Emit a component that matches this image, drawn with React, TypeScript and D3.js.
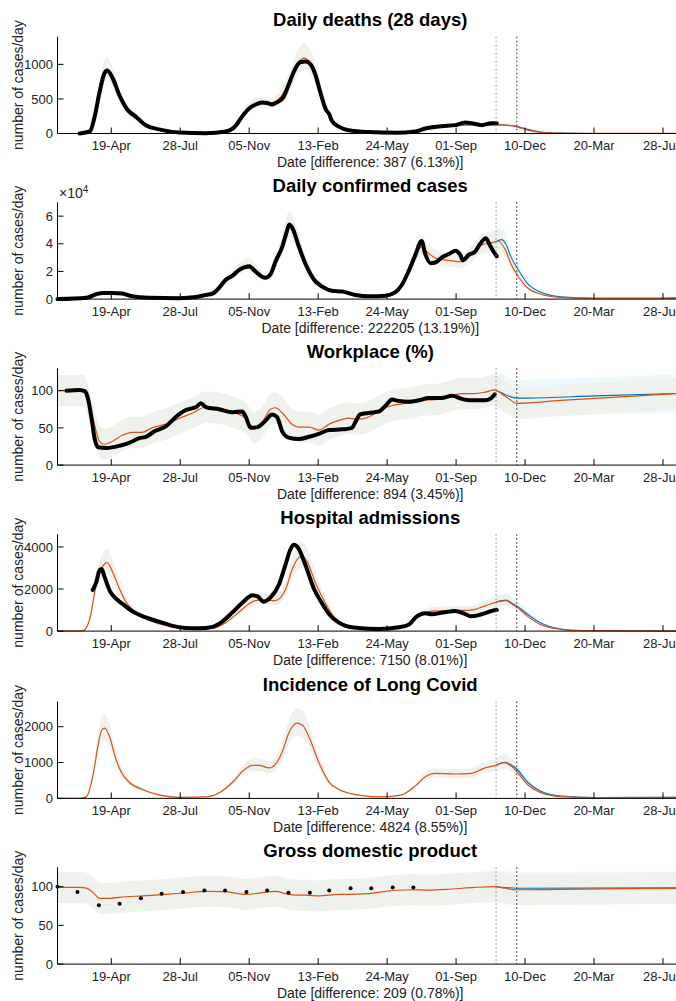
import React from 'react';
import * as d3 from 'd3';

type Pt = [string, number];

const X_START = '2020-02-01';
const X_END = '2022-07-27';
const X_TICKS = ['2020-04-19', '2020-07-28', '2020-11-05', '2021-02-13', '2021-05-24', '2021-09-01', '2021-12-10', '2022-03-20', '2022-06-28'];
const VLINE_1 = '2021-10-29';
const VLINE_2 = '2021-11-28';

// ---------- Daily deaths ----------
const deathsData: Pt[] = [
  ['2020-03-04', 0], ['2020-03-19', 30], ['2020-03-26', 250], ['2020-04-02', 600], ['2020-04-09', 870], ['2020-04-13', 910],
  ['2020-04-21', 800], ['2020-05-01', 550], ['2020-05-12', 350], ['2020-05-24', 250], ['2020-06-08', 120], ['2020-06-27', 60],
  ['2020-07-27', 15], ['2020-09-03', 5], ['2020-10-02', 30], ['2020-10-12', 70], ['2020-10-17', 120], ['2020-10-26', 250],
  ['2020-11-07', 380], ['2020-11-17', 430], ['2020-11-24', 450], ['2020-12-01', 440], ['2020-12-08', 420], ['2020-12-15', 450],
  ['2020-12-25', 530], ['2021-01-01', 700], ['2021-01-09', 900], ['2021-01-18', 1030], ['2021-01-26', 1040], ['2021-02-02', 1000],
  ['2021-02-09', 850], ['2021-02-16', 600], ['2021-02-24', 350], ['2021-03-01', 280], ['2021-03-05', 180], ['2021-03-15', 100],
  ['2021-03-29', 48], ['2021-04-27', 20], ['2021-06-05', 10], ['2021-07-04', 30], ['2021-07-18', 73], ['2021-08-11', 106],
  ['2021-08-31', 121], ['2021-09-14', 160], ['2021-09-23', 150], ['2021-10-08', 121], ['2021-10-22', 150], ['2021-10-30', 150],
];
const deathsModel: Pt[] = [
  ['2020-02-01', 0], ['2020-03-04', 0], ['2020-03-19', 40], ['2020-03-26', 280], ['2020-04-02', 620], ['2020-04-09', 880],
  ['2020-04-13', 920], ['2020-04-21', 790], ['2020-05-01', 520], ['2020-05-12', 320], ['2020-05-24', 220], ['2020-06-08', 120],
  ['2020-06-27', 50], ['2020-07-27', 12], ['2020-09-03', 5], ['2020-10-02', 35], ['2020-10-17', 130], ['2020-11-07', 390],
  ['2020-11-17', 440], ['2020-12-01', 430], ['2020-12-15', 470], ['2021-01-01', 720], ['2021-01-18', 1060], ['2021-01-24', 1090],
  ['2021-02-02', 1010], ['2021-02-16', 620], ['2021-03-01', 280], ['2021-03-15', 100], ['2021-04-08', 30], ['2021-05-22', 10],
  ['2021-07-04', 30], ['2021-07-18', 70], ['2021-08-11', 110], ['2021-09-14', 120], ['2021-10-08', 120], ['2021-10-30', 125],
  ['2021-11-11', 120], ['2021-11-28', 97], ['2021-12-14', 48], ['2022-01-02', 15], ['2022-01-31', 4], ['2022-03-21', 1], ['2022-07-27', 1],
];
const deathsAlt: Pt[] = [
  ['2021-10-29', 125], ['2021-11-11', 122], ['2021-11-28', 105], ['2021-12-14', 60], ['2022-01-02', 22], ['2022-01-31', 6],
  ['2022-03-21', 1], ['2022-07-27', 1],
];

// ---------- Daily confirmed cases ----------
const casesData: Pt[] = [
  ['2020-02-01', 0], ['2020-03-14', 1000], ['2020-03-28', 3500], ['2020-04-07', 4500], ['2020-04-21', 4500], ['2020-05-05', 4000],
  ['2020-05-19', 2000], ['2020-06-13', 1000], ['2020-07-27', 700], ['2020-08-20', 1500], ['2020-09-03', 3000], ['2020-09-13', 4000],
  ['2020-09-22', 8000], ['2020-10-02', 14000], ['2020-10-12', 17000], ['2020-10-21', 21000], ['2020-11-05', 23500], ['2020-11-14', 20000],
  ['2020-11-24', 16000], ['2020-11-29', 15500], ['2020-12-06', 18000], ['2020-12-13', 27000], ['2020-12-23', 38000], ['2020-12-29', 48000],
  ['2021-01-02', 54000], ['2021-01-06', 52000], ['2021-01-16', 38000], ['2021-01-26', 25000], ['2021-02-07', 14000], ['2021-02-19', 9000],
  ['2021-03-05', 6000], ['2021-03-20', 5500], ['2021-04-08', 3000], ['2021-04-27', 2000], ['2021-05-22', 2500], ['2021-06-05', 5000],
  ['2021-06-14', 10000], ['2021-06-24', 20000], ['2021-07-04', 32000], ['2021-07-13', 42000], ['2021-07-18', 33000], ['2021-07-26', 26000],
  ['2021-08-02', 26500], ['2021-08-11', 30000], ['2021-08-23', 33000], ['2021-08-31', 35000], ['2021-09-07', 32000], ['2021-09-11', 28000],
  ['2021-09-19', 32000], ['2021-09-28', 34000], ['2021-10-06', 40000], ['2021-10-14', 44000], ['2021-10-20', 39000], ['2021-10-27', 33000],
  ['2021-10-30', 31000],
];
const casesModel: Pt[] = [
  ['2020-02-01', 0], ['2020-03-14', 500], ['2020-03-28', 3000], ['2020-04-12', 4500], ['2020-05-05', 4000], ['2020-05-19', 2000],
  ['2020-06-13', 1000], ['2020-07-27', 700], ['2020-08-20', 1500], ['2020-09-03', 3000], ['2020-09-22', 8000], ['2020-10-12', 18000],
  ['2020-10-26', 23000], ['2020-11-05', 25000], ['2020-11-14', 21000], ['2020-11-26', 16000], ['2020-12-06', 19000], ['2020-12-23', 39000],
  ['2021-01-02', 53000], ['2021-01-06', 51000], ['2021-01-16', 39000], ['2021-01-26', 26000], ['2021-02-07', 15000], ['2021-02-19', 9000],
  ['2021-03-05', 6000], ['2021-03-20', 5000], ['2021-04-08', 3000], ['2021-04-27', 2000], ['2021-05-22', 2500], ['2021-06-05', 5000],
  ['2021-06-14', 10000], ['2021-06-24', 20000], ['2021-07-04', 31000], ['2021-07-13', 38000], ['2021-07-23', 33000], ['2021-08-06', 29000],
  ['2021-08-21', 28000], ['2021-09-09', 27000], ['2021-09-23', 32000], ['2021-10-08', 39000], ['2021-10-25', 41000], ['2021-11-01', 42000],
  ['2021-11-11', 36000], ['2021-11-20', 25000], ['2021-11-28', 18000], ['2021-12-14', 8000], ['2022-01-02', 3500], ['2022-01-31', 1200],
  ['2022-03-21', 500], ['2022-06-01', 500], ['2022-07-27', 1000],
];
const casesAlt: Pt[] = [
  ['2021-10-29', 41500], ['2021-11-06', 43000], ['2021-11-13', 39000], ['2021-11-20', 30000], ['2021-11-28', 23000], ['2021-12-14', 11000],
  ['2022-01-02', 5000], ['2022-01-31', 1700], ['2022-03-21', 600], ['2022-06-01', 500], ['2022-07-27', 800],
];

// ---------- Workplace ----------
const workData: Pt[] = [
  ['2020-02-14', 100], ['2020-03-04', 101], ['2020-03-12', 99], ['2020-03-16', 90], ['2020-03-21', 65], ['2020-03-26', 35],
  ['2020-03-31', 24], ['2020-04-12', 23], ['2020-05-01', 26], ['2020-05-15', 30], ['2020-05-29', 36], ['2020-06-08', 38],
  ['2020-06-22', 46], ['2020-07-07', 52], ['2020-07-22', 65], ['2020-08-05', 74], ['2020-08-20', 78], ['2020-08-27', 83],
  ['2020-09-03', 78], ['2020-09-22', 75], ['2020-10-12', 71], ['2020-10-26', 72], ['2020-10-31', 65], ['2020-11-07', 50],
  ['2020-11-17', 51], ['2020-11-29', 60], ['2020-12-08', 68], ['2020-12-15', 65], ['2020-12-23', 45], ['2021-01-01', 37],
  ['2021-01-16', 35], ['2021-01-31', 38], ['2021-02-14', 42], ['2021-03-01', 47], ['2021-03-20', 48], ['2021-04-03', 50],
  ['2021-04-08', 58], ['2021-04-15', 68], ['2021-04-27', 70], ['2021-05-12', 72], ['2021-05-22', 80], ['2021-05-31', 88],
  ['2021-06-10', 86], ['2021-06-24', 85], ['2021-07-09', 87], ['2021-07-23', 90], ['2021-08-11', 90], ['2021-08-26', 93],
  ['2021-09-09', 89], ['2021-09-23', 87], ['2021-10-13', 87], ['2021-10-22', 90], ['2021-10-27', 95],
];
const workModel: Pt[] = [
  ['2020-02-01', 100], ['2020-03-09', 100], ['2020-03-24', 60], ['2020-04-02', 32], ['2020-04-09', 28], ['2020-04-21', 32],
  ['2020-05-05', 40], ['2020-05-19', 44], ['2020-06-03', 44], ['2020-06-17', 50], ['2020-07-07', 55], ['2020-07-27', 63],
  ['2020-08-15', 70], ['2020-09-03', 78], ['2020-09-22', 77], ['2020-10-12', 71], ['2020-10-31', 63], ['2020-11-12', 50],
  ['2020-11-24', 58], ['2020-12-06', 75], ['2020-12-13', 77], ['2020-12-23', 70], ['2021-01-06', 55], ['2021-01-16', 51],
  ['2021-01-31', 51], ['2021-02-14', 47], ['2021-03-01', 55], ['2021-03-15', 60], ['2021-03-29', 63], ['2021-04-08', 62],
  ['2021-04-17', 62], ['2021-05-02', 67], ['2021-05-17', 75], ['2021-05-31', 80], ['2021-06-14', 82], ['2021-06-29', 84],
  ['2021-07-13', 87], ['2021-08-02', 88], ['2021-08-21', 92], ['2021-09-09', 96], ['2021-09-28', 96], ['2021-10-13', 98],
  ['2021-10-27', 101], ['2021-11-06', 96], ['2021-11-18', 88], ['2021-11-28', 83], ['2022-01-31', 87], ['2022-07-27', 96.5],
];
const workAlt: Pt[] = [
  ['2021-10-27', 101], ['2021-11-06', 97], ['2021-11-18', 92], ['2021-11-28', 90], ['2021-12-14', 90], ['2022-03-21', 93], ['2022-07-27', 96.5],
];

// ---------- Hospital admissions ----------
const hospData: Pt[] = [
  ['2020-03-23', 1950], ['2020-03-28', 2300], ['2020-04-02', 2900], ['2020-04-05', 2950], ['2020-04-09', 2600], ['2020-04-17', 1900],
  ['2020-04-24', 1600], ['2020-05-05', 1300], ['2020-05-19', 950], ['2020-06-08', 650], ['2020-06-27', 450], ['2020-07-17', 250],
  ['2020-08-05', 150], ['2020-08-25', 130], ['2020-09-13', 200], ['2020-09-27', 450], ['2020-10-12', 900], ['2020-10-26', 1350],
  ['2020-11-10', 1700], ['2020-11-17', 1650], ['2020-11-26', 1400], ['2020-12-06', 1600], ['2020-12-18', 2200], ['2020-12-28', 3200],
  ['2021-01-04', 3900], ['2021-01-09', 4100], ['2021-01-16', 3900], ['2021-01-26', 3100], ['2021-02-07', 2000], ['2021-02-19', 1300],
  ['2021-03-01', 800], ['2021-03-15', 400], ['2021-03-25', 250], ['2021-04-12', 150], ['2021-05-12', 100], ['2021-06-10', 180],
  ['2021-06-24', 300], ['2021-07-06', 700], ['2021-07-18', 850], ['2021-07-28', 800], ['2021-08-11', 870], ['2021-08-31', 960],
  ['2021-09-11', 850], ['2021-09-23', 700], ['2021-10-08', 800], ['2021-10-25', 980], ['2021-10-30', 1000],
];
const hospModel: Pt[] = [
  ['2020-02-01', 0], ['2020-03-09', 20], ['2020-03-19', 600], ['2020-03-28', 2200], ['2020-04-07', 3100], ['2020-04-13', 3250],
  ['2020-04-21', 2800], ['2020-05-01', 2000], ['2020-05-10', 1400], ['2020-05-29', 800], ['2020-06-27', 350], ['2020-08-05', 150],
  ['2020-09-13', 150], ['2020-10-02', 400], ['2020-10-21', 900], ['2020-11-10', 1400], ['2020-11-24', 1500], ['2020-12-13', 1450],
  ['2020-12-28', 2000], ['2021-01-06', 2900], ['2021-01-16', 3500], ['2021-01-21', 3550], ['2021-01-28', 3300], ['2021-02-09', 2300],
  ['2021-02-24', 1300], ['2021-03-08', 650], ['2021-03-20', 300], ['2021-04-17', 130], ['2021-06-05', 150], ['2021-06-24', 300],
  ['2021-07-11', 750], ['2021-07-28', 950], ['2021-08-31', 980], ['2021-09-23', 1000], ['2021-10-13', 1200], ['2021-11-01', 1400],
  ['2021-11-13', 1450], ['2021-11-20', 1300], ['2021-11-28', 1150], ['2021-12-14', 700], ['2022-01-02', 300], ['2022-01-31', 80],
  ['2022-03-01', 20], ['2022-07-27', 5],
];
const hospAlt: Pt[] = [
  ['2021-10-29', 1380], ['2021-11-13', 1470], ['2021-11-20', 1350], ['2021-11-28', 1200], ['2021-12-14', 800], ['2022-01-02', 380],
  ['2022-01-31', 100], ['2022-03-01', 25], ['2022-07-27', 5],
];

// ---------- Long Covid ----------
const longModel: Pt[] = [
  ['2020-02-01', 0], ['2020-03-04', 0], ['2020-03-14', 50], ['2020-03-24', 700], ['2020-03-31', 1500], ['2020-04-05', 1900],
  ['2020-04-09', 1960], ['2020-04-17', 1700], ['2020-04-24', 1200], ['2020-05-03', 750], ['2020-05-15', 450], ['2020-06-03', 250],
  ['2020-06-27', 100], ['2020-07-27', 30], ['2020-09-03', 40], ['2020-09-22', 150], ['2020-10-12', 450], ['2020-10-26', 750],
  ['2020-11-10', 920], ['2020-11-19', 920], ['2020-12-04', 850], ['2020-12-13', 950], ['2020-12-23', 1300], ['2021-01-01', 1800],
  ['2021-01-13', 2100], ['2021-01-21', 2050], ['2021-01-31', 1700], ['2021-02-14', 1000], ['2021-03-01', 450], ['2021-03-15', 250],
  ['2021-04-17', 80], ['2021-05-17', 40], ['2021-06-14', 100], ['2021-07-04', 350], ['2021-07-18', 600], ['2021-08-02', 700],
  ['2021-08-31', 680], ['2021-09-23', 700], ['2021-10-13', 850], ['2021-10-30', 930], ['2021-11-11', 1000], ['2021-11-20', 900],
  ['2021-11-28', 750], ['2021-12-14', 380], ['2022-01-02', 160], ['2022-01-31', 50], ['2022-03-21', 20], ['2022-07-27', 30],
];
const longAlt: Pt[] = [
  ['2021-10-29', 930], ['2021-11-11', 1010], ['2021-11-20', 930], ['2021-11-28', 820], ['2021-12-14', 450], ['2022-01-02', 200],
  ['2022-01-31', 65], ['2022-03-21', 25], ['2022-07-27', 30],
];

// ---------- GDP ----------
const gdpData: Pt[] = [
  ['2020-02-01', 100], ['2020-03-01', 93], ['2020-04-01', 76], ['2020-05-01', 78], ['2020-06-01', 85], ['2020-07-01', 91],
  ['2020-08-01', 93], ['2020-09-01', 95], ['2020-10-01', 95], ['2020-11-01', 93], ['2020-12-01', 95], ['2021-01-01', 92],
  ['2021-02-01', 92], ['2021-03-01', 95], ['2021-04-01', 98], ['2021-05-01', 98], ['2021-06-01', 99], ['2021-07-01', 99],
];
const gdpModel: Pt[] = [
  ['2020-02-01', 99], ['2020-03-04', 99], ['2020-03-14', 98], ['2020-03-24', 92], ['2020-04-02', 85], ['2020-04-17', 85],
  ['2020-05-10', 87], ['2020-06-03', 88], ['2020-07-07', 90], ['2020-08-05', 92], ['2020-09-03', 94], ['2020-10-02', 93.5],
  ['2020-10-31', 90], ['2020-11-14', 91], ['2020-11-29', 93], ['2020-12-13', 94], ['2020-12-28', 91], ['2021-01-11', 89],
  ['2021-01-26', 89], ['2021-02-14', 88], ['2021-03-15', 90], ['2021-03-29', 90], ['2021-04-27', 91], ['2021-05-22', 94],
  ['2021-06-29', 96], ['2021-07-23', 95.5], ['2021-08-26', 97], ['2021-09-28', 99], ['2021-10-27', 100], ['2021-11-11', 98],
  ['2021-11-28', 96], ['2022-01-31', 96.5], ['2022-07-27', 98],
];
const gdpAlt: Pt[] = [
  ['2021-10-27', 100], ['2021-11-11', 99], ['2021-11-28', 98], ['2022-07-27', 98.5],
];

const TITLES = ['Daily deaths (28 days)', 'Daily confirmed cases', 'Workplace (%)', 'Hospital admissions', 'Incidence of Long Covid', 'Gross domestic product'];
const XLABELS = [
  'Date [difference: 387 (6.13%)]',
  'Date [difference: 222205 (13.19%)]',
  'Date [difference: 894 (3.45%)]',
  'Date [difference: 7150 (8.01%)]',
  'Date [difference: 4824 (8.55%)]',
  'Date [difference: 209 (0.78%)]',
];
const Y_LABEL = 'number of cases/day';

const RED = '#D95319';
const BLUE = '#0072BD';
const BAND = '#eef1ec';
const BAND_BLUE = '#eef7fb';
const FONT = '"Liberation Sans Narrow", "Arial Narrow", "Liberation Sans", Arial, sans-serif';

const parse = d3.timeParse('%Y-%m-%d');
const fmtTick = d3.timeFormat('%d-%b');

type Panel = {
  title: string;
  xlabel: string;
  top: number;
  yMax: number;
  yTicks: number[];
  tickDiv: number;
  exponent?: string;
  data?: Pt[];
  dots?: Pt[];
  model: Pt[];
  alt: Pt[];
  bandRel?: [number, number];
  bandAbs?: number;
  altBandAbs?: number;
};

const PANELS: Panel[] = [
  { title: TITLES[0], xlabel: XLABELS[0], top: 36.7, yMax: 1400, yTicks: [0, 500, 1000], tickDiv: 1, data: deathsData, model: deathsModel, alt: deathsAlt, bandRel: [1.2, 0.84] },
  { title: TITLES[1], xlabel: XLABELS[1], top: 202.3, yMax: 70000, yTicks: [0, 20000, 40000, 60000], tickDiv: 10000, exponent: '4', data: casesData, model: casesModel, alt: casesAlt, bandRel: [1.2, 0.84] },
  { title: TITLES[2], xlabel: XLABELS[2], top: 368.3, yMax: 130, yTicks: [0, 50, 100], tickDiv: 1, data: workData, model: workModel, alt: workAlt, bandAbs: 21, altBandAbs: 25 },
  { title: TITLES[3], xlabel: XLABELS[3], top: 534.3, yMax: 4600, yTicks: [0, 2000, 4000], tickDiv: 1, data: hospData, model: hospModel, alt: hospAlt, bandRel: [1.2, 0.84] },
  { title: TITLES[4], xlabel: XLABELS[4], top: 701.6, yMax: 2700, yTicks: [0, 1000, 2000], tickDiv: 1, model: longModel, alt: longAlt, bandRel: [1.2, 0.83] },
  { title: TITLES[5], xlabel: XLABELS[5], top: 867.3, yMax: 125, yTicks: [0, 50, 100], tickDiv: 1, dots: gdpData, model: gdpModel, alt: gdpAlt, bandAbs: 20, altBandAbs: 21 },
];

const PLOT_H = 96.8;
const X0 = 57.5;
const PX_PER_DAY = 0.6896;

function PanelView({ p, x }: { p: Panel; x: d3.ScaleTime<number, number> }) {
  const y = d3.scaleLinear().domain([0, p.yMax]).range([p.top + PLOT_H, p.top]);
  const bottom = p.top + PLOT_H;
  const [xl, xr] = x.range();
  const line = d3.line<Pt>().x(d => x(parse(d[0])!)).y(d => y(d[1])).curve(d3.curveMonotoneX);
  const up = (v: number) => (p.bandRel ? v * p.bandRel[0] : v + (p.bandAbs || 0));
  const lo = (v: number) => (p.bandRel ? v * p.bandRel[1] : v - (p.bandAbs || 0));
  const band = d3.area<Pt>().x(d => x(parse(d[0])!)).y0(d => y(lo(d[1]))).y1(d => y(up(d[1]))).curve(d3.curveMonotoneX);
  const altW = p.altBandAbs || 0;
  const altBand = d3.area<Pt>().x(d => x(parse(d[0])!))
    .y0(d => y(p.bandRel ? d[1] * p.bandRel[1] : d[1] - altW))
    .y1(d => y(p.bandRel ? d[1] * 1.22 : d[1] + altW)).curve(d3.curveMonotoneX);
  const v1 = x(parse(VLINE_1)!);
  const v2 = x(parse(VLINE_2)!);
  const cx = (xl + xr) / 2;
  return (
    <g>
      <path d={altBand(p.alt) || ''} fill={BAND_BLUE} />
      <path d={band(p.model) || ''} fill={BAND} />
      <path d={line(p.alt) || ''} fill="none" stroke={BLUE} strokeWidth={1.1} />
      <path d={line(p.model) || ''} fill="none" stroke={RED} strokeWidth={1.2} />
      {p.data && (
        <path d={line(p.data) || ''} fill="none" stroke="#000" strokeWidth={4} strokeLinejoin="round" strokeLinecap="round" />
      )}
      {p.dots && p.dots.map((d, i) => (
        <circle key={i} cx={x(parse(d[0])!)} cy={y(d[1])} r={2} fill="#000" />
      ))}
      <line x1={v1} x2={v1} y1={p.top} y2={bottom} stroke="#8c8c8c" strokeWidth={1} strokeDasharray="1.5,2.5" />
      <line x1={v2} x2={v2} y1={p.top} y2={bottom} stroke="#222" strokeWidth={1} strokeDasharray="1.5,2.5" />
      {/* axes */}
      <line x1={xl} x2={xr} y1={bottom} y2={bottom} stroke="#000" strokeWidth={1} />
      <line x1={xl} x2={xl} y1={p.top} y2={bottom} stroke="#000" strokeWidth={1} />
      {X_TICKS.map(t => {
        const tx = x(parse(t)!);
        return (
          <g key={t}>
            <line x1={tx} x2={tx} y1={bottom} y2={bottom - 6} stroke="#000" strokeWidth={1} />
            <text x={tx} y={bottom + 16.5} textAnchor="middle" fontSize={13} fontFamily={FONT} fill="#222">{fmtTick(parse(t)!)}</text>
          </g>
        );
      })}
      {p.yTicks.map(t => (
        <g key={t}>
          <line x1={xl} x2={xl + 6} y1={y(t)} y2={y(t)} stroke="#000" strokeWidth={1} />
          <text x={xl - 4.5} y={y(t)} dy="0.36em" textAnchor="end" fontSize={13} fontFamily={FONT} fill="#222">{d3.format('d')(t / p.tickDiv)}</text>
        </g>
      ))}
      {p.exponent && (
        <text x={xl + 1.5} y={p.top - 4} fontSize={14} fontFamily={FONT} fill="#222">
          {'\u00d710'}
          <tspan dy={-5} fontSize={10}>{p.exponent}</tspan>
        </text>
      )}
      <text x={cx} y={p.top - 10.5} textAnchor="middle" fontSize={18.5} fontWeight="bold" fontFamily={FONT} fill="#000">{p.title}</text>
      <text x={cx} y={bottom + 33.5} textAnchor="middle" fontSize={14} fontFamily={FONT} fill="#222">{p.xlabel}</text>
      <text transform={`translate(23,${p.top + PLOT_H / 2}) rotate(-90)`} textAnchor="middle" fontSize={14} fontFamily={FONT} fill="#222">{Y_LABEL}</text>
    </g>
  );
}

export default function App() {
  const start = parse(X_START)!;
  const end = parse(X_END)!;
  const days = (end.getTime() - start.getTime()) / 86400000;
  const x = d3.scaleTime().domain([start, end]).range([X0, X0 + days * PX_PER_DAY]);
  return (
    <svg width={676} height={1001} style={{ position: 'absolute', left: 0, top: 0, background: '#fff' }}>
      <rect width={676} height={1001} fill="#fff" />
      {PANELS.map((p, i) => <PanelView key={i} p={p} x={x} />)}
    </svg>
  );
}
